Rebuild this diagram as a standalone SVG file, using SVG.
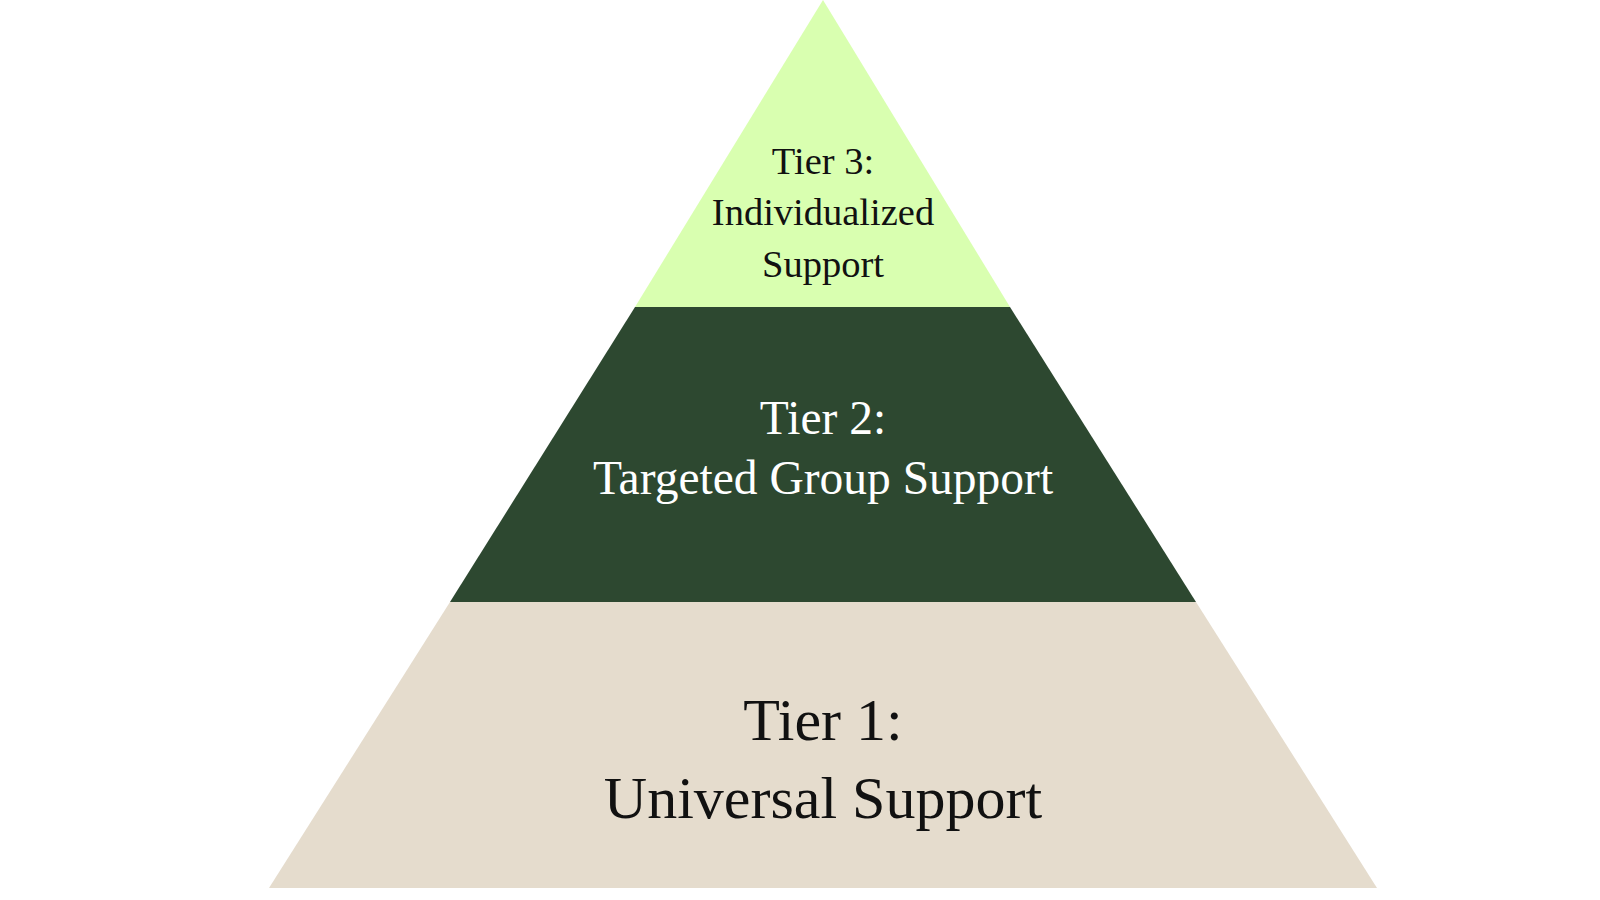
<svg xmlns="http://www.w3.org/2000/svg" width="1600" height="900" viewBox="0 0 1600 900">
<style>
.lbl{font-family:"Liberation Serif","DejaVu Serif",serif;text-anchor:middle}
.dark{fill:#111111}
.light{fill:#ffffff}
</style>
<rect width="1600" height="900" fill="#ffffff"/>
<g id="tier1">
<polygon points="450,602 1196,602 1377,888 269,888" fill="#E5DCCD"/>
<text class="lbl dark" x="823" y="740" font-size="60">Tier 1:</text>
<text class="lbl dark" x="823" y="818" font-size="60">Universal Support</text>
</g>
<g id="tier2">
<polygon points="635,307 1010,307 1196,602 450,602" fill="#2D4830"/>
<text class="lbl light" x="823" y="434" font-size="47.5">Tier 2:</text>
<text class="lbl light" x="823" y="494" font-size="47.5">Targeted Group Support</text>
</g>
<g id="tier3">
<polygon points="823,0 1010,307 635,307" fill="#D9FFB0"/>
<text class="lbl dark" x="823" y="174" font-size="38.5">Tier 3:</text>
<text class="lbl dark" x="823" y="225" font-size="38.5">Individualized</text>
<text class="lbl dark" x="823" y="277" font-size="38.5">Support</text>
</g>
<g id="connectors"/>
</svg>
